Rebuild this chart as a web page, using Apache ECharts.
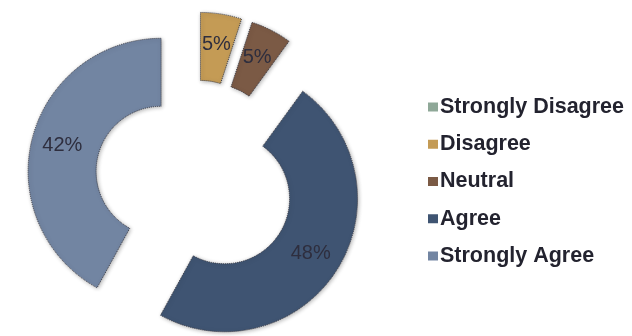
<!DOCTYPE html>
<html>
<head>
<meta charset="utf-8">
<script src="https://cdn.jsdelivr.net/npm/echarts@6/dist/echarts.min.js"></script>
<style>html,body{margin:0;padding:0;background:#fff}#c{width:632px;height:336px}</style>
</head>
<body>
<div id="c"></div>
<script>
var categories = ['Strongly Disagree', 'Disagree', 'Neutral', 'Agree', 'Strongly Agree'];
var values = [0, 5, 5, 48, 42];
var colors = ['#8fa898', '#c49b55', '#7b5a45', '#3f5472', '#7285a2'];

var chart = echarts.init(document.getElementById('c'));
var data = categories.map(function (name, i) {
  var item = { name: name, value: values[i], selected: true, itemStyle: { color: colors[i] } };
  if (values[i] === 0) {
    item.label = { show: false };
    item.itemStyle.borderWidth = 0;
    item.itemStyle.shadowBlur = 0;
    item.itemStyle.shadowOffsetX = 0;
    item.itemStyle.shadowOffsetY = 0;
    item.itemStyle.opacity = 0;
  }
  return item;
});
chart.setOption({
  animation: false,
  legend: {
    orient: 'vertical',
    left: 423,
    top: 91,
    itemWidth: 10,
    itemHeight: 9,
    itemGap: 15.25,
    icon: 'rect',
    selectedMode: false,
    itemStyle: { borderWidth: 0, shadowBlur: 0, shadowOffsetX: 0, shadowOffsetY: 0, opacity: 1 },
    textStyle: { fontFamily: 'Liberation Sans, Arial, sans-serif', fontWeight: 'bold', fontSize: 21.5, lineHeight: 20, color: '#23232f', padding: [0, 0, 0, -3] },
    data: categories.map(function (n, i) { return { name: n, itemStyle: { color: colors[i], opacity: 1 } }; })
  },
  series: [{
    type: 'pie',
    center: [195, 180],
    radius: [65, 133],
    startAngle: 90,
    clockwise: true,
    selectedMode: 'multiple',
    selectedOffset: 35,
    avoidLabelOverlap: false,
    emphasis: { disabled: true },
    itemStyle: { borderColor: '#3a3a44', borderWidth: 1, borderType: 'dotted', shadowColor: 'rgba(0,0,0,0.3)', shadowBlur: 4, shadowOffsetX: 1, shadowOffsetY: 1 },
    label: { show: true, position: 'inside', formatter: '{c}%', fontFamily: 'Liberation Sans, Arial, sans-serif', fontSize: 20, color: '#2e2e3e' },
    labelLine: { show: false },
    data: data
  }]
});
</script>
</body>
</html>
